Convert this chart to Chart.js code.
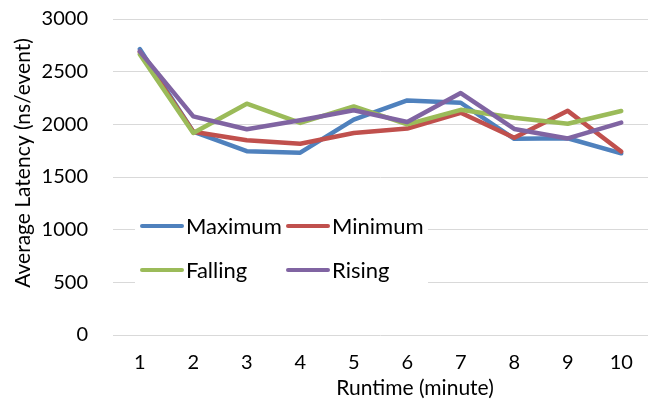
<!DOCTYPE html>
<html>
<head>
<meta charset="utf-8">
<script src="https://cdn.jsdelivr.net/npm/chart.js@4/dist/chart.umd.min.js"></script>
<style>
  html, body { margin: 0; padding: 0; background: #fff; }
  #wrap { width: 656px; height: 403px; position: relative; }
</style>
</head>
<body>
<div id="wrap"><canvas id="chart" width="656" height="403"></canvas></div>
<script>
// Runtime in minutes
const minutes = ['1', '2', '3', '4', '5', '6', '7', '8', '9', '10'];

// Average latency per event (ns) for each workload pattern
const maximum = [2715, 1930, 1745, 1731, 2045, 2227, 2205, 1862, 1868, 1725];
const minimum = [2685, 1930, 1848, 1815, 1918, 1960, 2110, 1872, 2128, 1742];
const falling = [2665, 1918, 2196, 2013, 2170, 2000, 2138, 2063, 2006, 2126];
const rising  = [2693, 2075, 1953, 2038, 2134, 2022, 2297, 1956, 1866, 2016];

const yTicks = [0, 500, 1000, 1500, 2000, 2500, 3000];

const xTitle = 'Runtime (minute)';
const yTitle = 'Average Latency (ns/event)';

const FONT = 'Lato, "Open Sans", sans-serif';

function series(label, data, color, order) {
  return {
    label, data,
    borderColor: color,
    backgroundColor: color,
    borderWidth: 4.5,
    borderJoinStyle: 'round',
    borderCapStyle: 'round',
    pointRadius: 0,
    pointHoverRadius: 0,
    tension: 0,
    fill: false,
    order
  };
}

// Axis titles plus a two-column legend drawn inside the plot on a white panel
const decorations = {
  id: 'decorations',
  afterDraw(chart) {
    const ctx = chart.ctx;
    const sets = chart.data.datasets;
    ctx.save();

    ctx.fillStyle = '#000000';
    ctx.font = '21px ' + FONT;
    ctx.textAlign = 'center';
    ctx.textBaseline = 'middle';
    ctx.fillText(xTitle, 415, 388);
    ctx.save();
    ctx.translate(23, 163);
    ctx.rotate(-Math.PI / 2);
    ctx.fillText(yTitle, 0, 0);
    ctx.restore();

    ctx.fillStyle = '#ffffff';
    ctx.fillRect(135, 204, 293, 90);
    const cols = [{ lx: 142, tx: 186 }, { lx: 288, tx: 332 }];
    const rows = [226, 270];
    ctx.font = '22px ' + FONT;
    ctx.textBaseline = 'middle';
    ctx.textAlign = 'left';
    sets.forEach((ds, i) => {
      const c = cols[i % 2];
      const y = rows[Math.floor(i / 2)];
      ctx.strokeStyle = ds.borderColor;
      ctx.lineWidth = 4;
      ctx.lineCap = 'round';
      ctx.beginPath();
      ctx.moveTo(c.lx, y);
      ctx.lineTo(c.lx + 40, y);
      ctx.stroke();
      ctx.fillStyle = '#000000';
      ctx.fillText(ds.label, c.tx, y + 1);
    });
    ctx.restore();
  }
};

new Chart(document.getElementById('chart'), {
  type: 'line',
  data: {
    labels: minutes,
    datasets: [
      series('Maximum', maximum, '#4F81BD', 4),
      series('Minimum', minimum, '#C0504D', 3),
      series('Falling', falling, '#9BBB59', 2),
      series('Rising',  rising,  '#8064A2', 1)
    ]
  },
  options: {
    responsive: false,
    animation: false,
    events: [],
    layout: { padding: { left: 0, right: 8, top: 19, bottom: 0 } },
    plugins: {
      legend: { display: false },
      tooltip: { enabled: false }
    },
    scales: {
      x: {
        offset: true,
        grid: { display: false, drawTicks: false },
        border: { display: false },
        ticks: {
          color: '#000',
          font: { family: FONT, size: 20 },
          padding: 16,
          maxRotation: 0
        },
        afterFit(scale) { scale.height = 68; }
      },
      y: {
        min: 0,
        max: 3000,
        afterBuildTicks(scale) { scale.ticks = yTicks.map(v => ({ value: v })); },
        grid: {
          color: '#D9D9D9',
          lineWidth: 1,
          drawTicks: true,
          tickLength: 25,
          tickColor: 'rgba(0,0,0,0)'
        },
        border: { display: false },
        ticks: {
          color: '#000',
          font: { family: FONT, size: 20 },
          padding: 0,
          callback: (v) => String(v)
        },
        afterFit(scale) { scale.width = 113; }
      }
    }
  },
  plugins: [decorations]
});
</script>
</body>
</html>
